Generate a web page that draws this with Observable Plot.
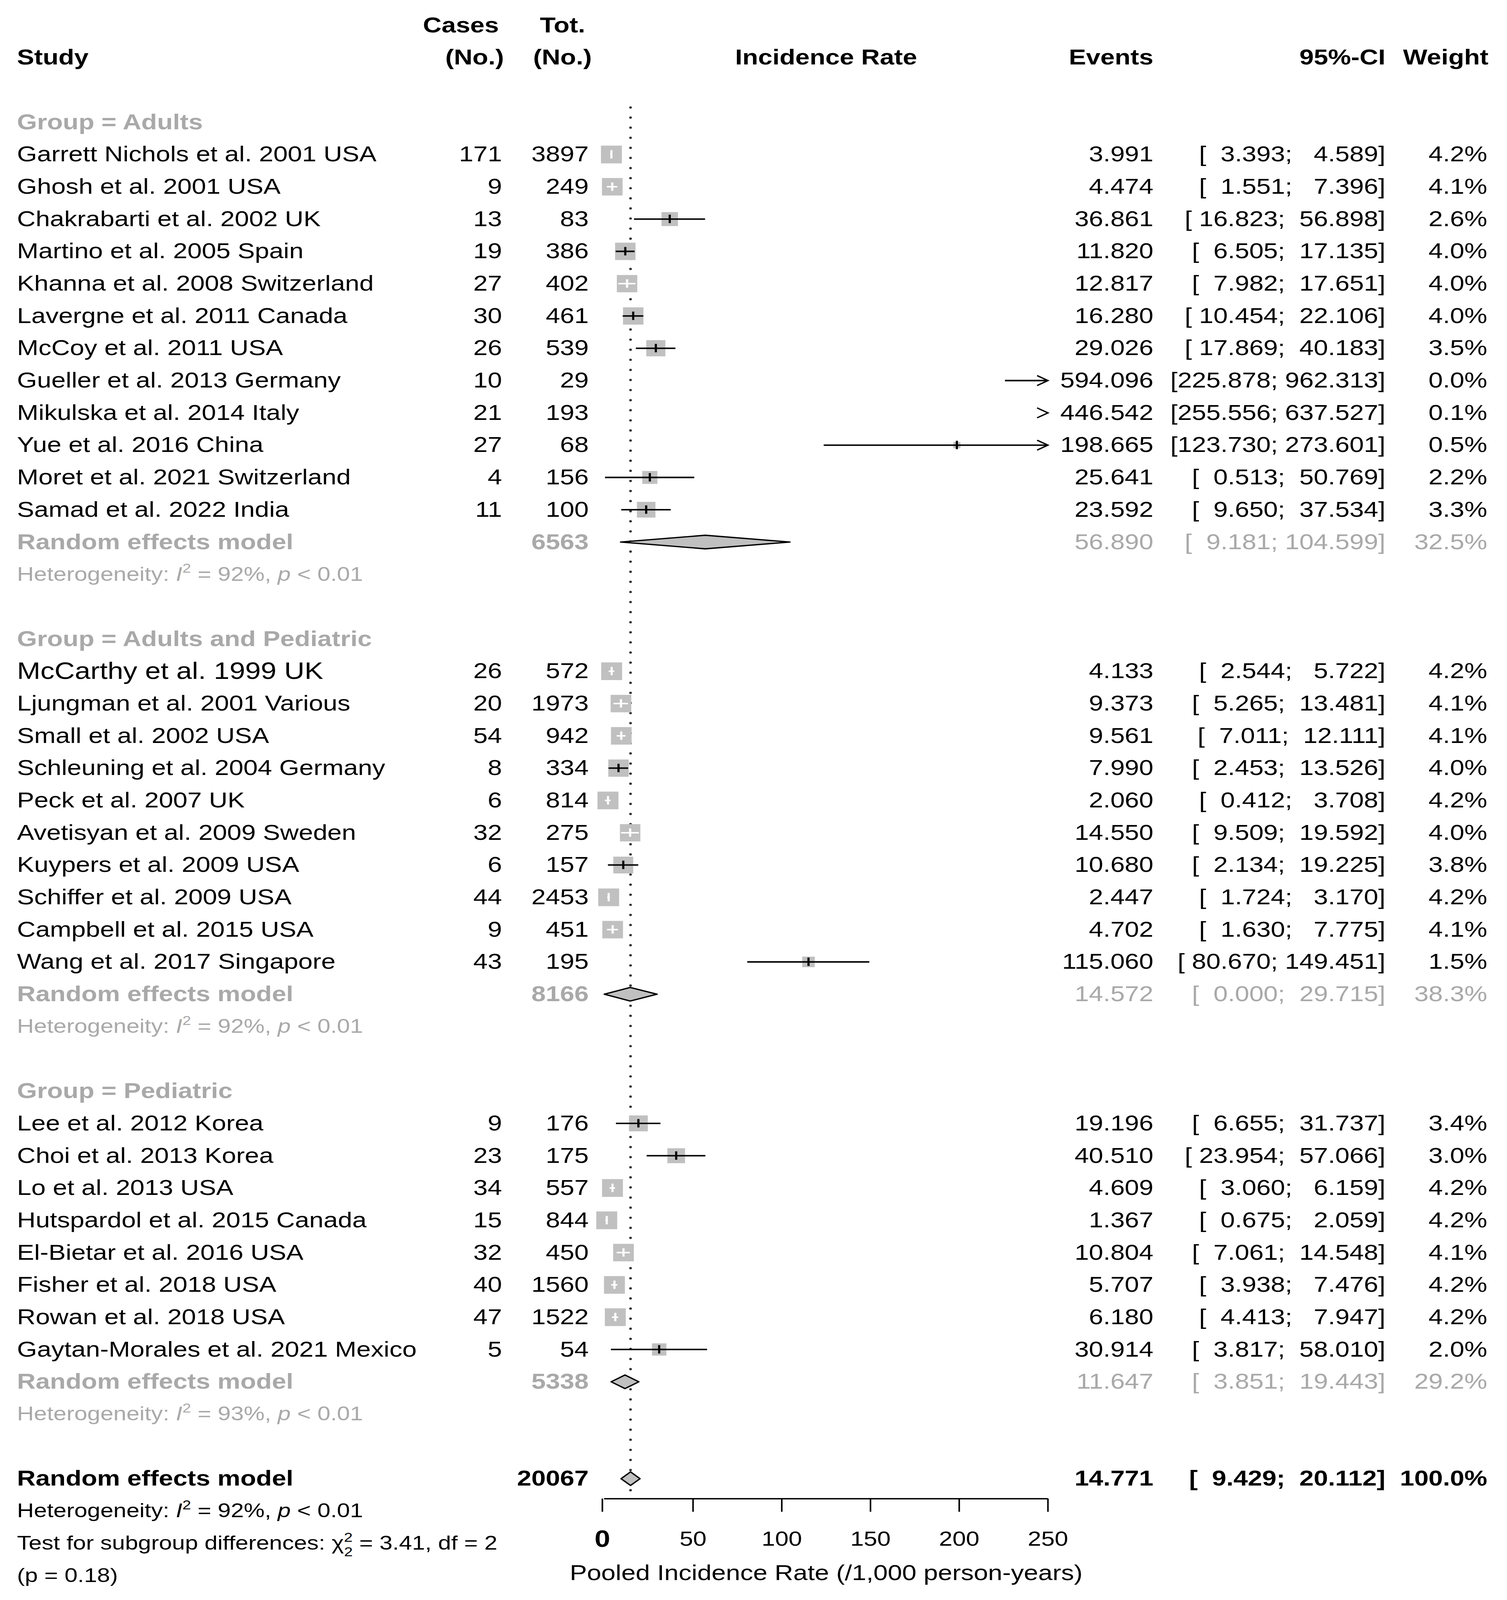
<!DOCTYPE html>
<html>
<head>
<meta charset="utf-8">
<script src="https://cdn.jsdelivr.net/npm/d3@7"></script>
<script src="https://cdn.jsdelivr.net/npm/@observablehq/plot@0.6"></script>
<style>
  html, body { margin: 0; padding: 0; background: #fff; overflow: hidden; }
  #chart { width: 100vw; height: 100vh; overflow: hidden; }
  svg text { white-space: pre; }
</style>
</head>
<body>
<div id="chart"></div>
<script>
// ---------------- DATA ----------------
const groupNames = ["Adults", "Adults and Pediatric", "Pediatric"];

const studyNames = [
  "Garrett Nichols et al. 2001 USA", "Ghosh et al. 2001 USA", "Chakrabarti et al. 2002 UK",
  "Martino et al. 2005 Spain", "Khanna et al. 2008 Switzerland", "Lavergne et al. 2011 Canada",
  "McCoy et al. 2011 USA", "Gueller et al. 2013 Germany", "Mikulska et al. 2014 Italy",
  "Yue et al. 2016 China", "Moret et al. 2021 Switzerland", "Samad et al. 2022 India",
  "McCarthy et al. 1999 UK", "Ljungman et al. 2001 Various", "Small et al. 2002 USA",
  "Schleuning et al. 2004 Germany", "Peck et al. 2007 UK", "Avetisyan et al. 2009 Sweden",
  "Kuypers et al. 2009 USA", "Schiffer et al. 2009 USA", "Campbell et al. 2015 USA",
  "Wang et al. 2017 Singapore",
  "Lee et al. 2012 Korea", "Choi et al. 2013 Korea", "Lo et al. 2013 USA",
  "Hutspardol et al. 2015 Canada", "El-Bietar et al. 2016 USA", "Fisher et al. 2018 USA",
  "Rowan et al. 2018 USA", "Gaytan-Morales et al. 2021 Mexico"
];
const studyGroup = [0,0,0,0,0,0,0,0,0,0,0,0, 1,1,1,1,1,1,1,1,1,1, 2,2,2,2,2,2,2,2];
const cases  = [171, 9, 13, 19, 27, 30, 26, 10, 21, 27, 4, 11,
                26, 20, 54, 8, 6, 32, 6, 44, 9, 43,
                9, 23, 34, 15, 32, 40, 47, 5];
const totals = [3897, 249, 83, 386, 402, 461, 539, 29, 193, 68, 156, 100,
                572, 1973, 942, 334, 814, 275, 157, 2453, 451, 195,
                176, 175, 557, 844, 450, 1560, 1522, 54];
const rates  = [3.991, 4.474, 36.861, 11.820, 12.817, 16.280, 29.026, 594.096, 446.542, 198.665, 25.641, 23.592,
                4.133, 9.373, 9.561, 7.990, 2.060, 14.550, 10.680, 2.447, 4.702, 115.060,
                19.196, 40.510, 4.609, 1.367, 10.804, 5.707, 6.180, 30.914];
const ciLower = [3.393, 1.551, 16.823, 6.505, 7.982, 10.454, 17.869, 225.878, 255.556, 123.730, 0.513, 9.650,
                 2.544, 5.265, 7.011, 2.453, 0.412, 9.509, 2.134, 1.724, 1.630, 80.670,
                 6.655, 23.954, 3.060, 0.675, 7.061, 3.938, 4.413, 3.817];
const ciUpper = [4.589, 7.396, 56.898, 17.135, 17.651, 22.106, 40.183, 962.313, 637.527, 273.601, 50.769, 37.534,
                 5.722, 13.481, 12.111, 13.526, 3.708, 19.592, 19.225, 3.170, 7.775, 149.451,
                 31.737, 57.066, 6.159, 2.059, 14.548, 7.476, 7.947, 58.010];
const weights = [4.2, 4.1, 2.6, 4.0, 4.0, 4.0, 3.5, 0.0, 0.1, 0.5, 2.2, 3.3,
                 4.2, 4.1, 4.1, 4.0, 4.2, 4.0, 3.8, 4.2, 4.1, 1.5,
                 3.4, 3.0, 4.2, 4.2, 4.1, 4.2, 4.2, 2.0];

const subTotal  = [6563, 8166, 5338];
const subRate   = [56.890, 14.572, 11.647];
const subLower  = [9.181, 0.000, 3.851];
const subUpper  = [104.599, 29.715, 19.443];
const subWeight = [32.5, 38.3, 29.2];
const subI2     = [92, 92, 93];

const overallTotal = 20067;
const overallRate = 14.771, overallLower = 9.429, overallUpper = 20.112, overallWeight = 100.0;
const overallI2 = 92;
const subgroupChi2 = 3.41, subgroupDf = 2, subgroupP = 0.18;

const xDomain = [0, 250];
const xTicks = [0, 50, 100, 150, 200, 250];
const axisTitle = "Pooled Incidence Rate (/1,000 person-years)";

// ---------------- LAYOUT / STYLE ----------------
const W = 3859, H = 4835;
const ROW0 = 368.7, ROWH = 97.6;           // pixel of row 0 and row height
const X_RANGE = [1547, 2683];
const FONT = "'Liberation Sans', Arial, Helvetica, sans-serif";
const FS = 66, FS_HET = 60, FS_BIG = 72;
const COL = {study: 43, cases: 1285, tot: 1507, events: 2953, ci: 3547, weight: 3808};
const GRAY = "#a9a9a9", SQ = "#c0c0c0";
const R_RANGE_MAX = 29.5;                  // drawn square radius at weight 4.0 (side = r*sqrt(pi))
const INSIDE_SIDE_4 = 47.5;                // square side (px) used to decide if a CI lies inside its square
const ENLARGED = new Set(["McCarthy et al. 1999 UK"]);
const NB = "\u00a0";
const DIAMOND_H = 0.21, TICK_H = 0.13;

// ---------------- BUILD ROWS ----------------
const fmt3 = v => v.toFixed(3);
const ciText = (lo, hi) => "[" + fmt3(lo).padStart(7, NB) + "; " + fmt3(hi).padStart(7, NB) + "]";
const wText = w => w.toFixed(1) + "%";
const pxPerUnit = (X_RANGE[1] - X_RANGE[0]) / (xDomain[1] - xDomain[0]);
const insideSide = w => INSIDE_SIDE_4 * Math.sqrt(w / 4);

const rows = [];
let r = 0;
groupNames.forEach((g, gi) => {
  rows.push({row: r++, kind: "group", label: `Group = ${g}`});
  studyNames.forEach((name, i) => {
    if (studyGroup[i] !== gi) return;
    rows.push({row: r++, kind: "study", label: name, cases: cases[i], total: totals[i],
      rate: rates[i], lo: ciLower[i], hi: ciUpper[i], w: weights[i],
      inside: (ciUpper[i] - ciLower[i]) * pxPerUnit < insideSide(weights[i])});
  });
  rows.push({row: r++, kind: "sub", label: "Random effects model", total: subTotal[gi],
    rate: subRate[gi], lo: subLower[gi], hi: subUpper[gi], w: subWeight[gi]});
  rows.push({row: r++, kind: "subhet", label: `Heterogeneity: I² = ${subI2[gi]}%, p < 0.01`});
  r++;
});
const overallRow = r;
rows.push({row: r++, kind: "overall", label: "Random effects model", total: overallTotal,
  rate: overallRate, lo: overallLower, hi: overallUpper, w: overallWeight});
rows.push({row: r++, kind: "overallhet", label: `Heterogeneity: I² = ${overallI2}%, p < 0.01`});
rows.push({row: r++, kind: "test", label: `Test for subgroup differences: χ²₂ = ${subgroupChi2.toFixed(2)}, df = ${subgroupDf}`});
rows.push({row: r++, kind: "testp", label: `(p = ${subgroupP.toFixed(2)})`});

const studies = rows.filter(d => d.kind === "study");
const summaries = rows.filter(d => d.kind === "sub" || d.kind === "overall");
const firstRow = rows[0].row;
const axisRow = overallRow + 0.62;
const yPix = v => ROW0 + ROWH * v;
const xMax = xDomain[1], xMin = xDomain[0];

const diamondPts = summaries.flatMap((d, k) => [
  {id: k, x: d.lo, y: d.row},
  {id: k, x: d.rate, y: d.row - DIAMOND_H},
  {id: k, x: d.hi, y: d.row},
  {id: k, x: d.rate, y: d.row + DIAMOND_H},
  {id: k, x: d.lo, y: d.row}
]);

const arrowHead = {
  draw(context, size) {
    const s = Math.sqrt(size / Math.PI);
    context.moveTo(-1.85 * s, -s);
    context.lineTo(0, 0);
    context.lineTo(-1.85 * s, s);
  }
};

// ---------------- HELPERS ----------------
const leftText = (data, o = {}) => Plot.text(data, {y: "row", text: "label", frameAnchor: "left",
  dx: COL.study, textAnchor: "start", fontSize: FS, fill: "black", ...o});
const colText = (data, text, right, o = {}) => Plot.text(data, {y: "row", text, frameAnchor: "left",
  dx: right, textAnchor: "end", fontSize: FS, fill: "black", ...o});
const header = (label, row, right, o = {}) => Plot.text([label], {y: () => row, text: d => d,
  frameAnchor: "left", dx: right, textAnchor: "end", fontSize: FS, fontWeight: "bold", fill: "black", ...o});

const visible = d => d.rate >= xMin && d.rate <= xMax;
const hasLine = d => d.lo <= xMax;

const svg = Plot.plot({
  width: W, height: H,
  marginLeft: 0, marginRight: 0, marginTop: 0, marginBottom: H - yPix(axisRow),
  style: {fontFamily: FONT, background: "white", color: "black"},
  x: {domain: xDomain, range: X_RANGE},
  y: {domain: [-ROW0 / ROWH, (H - ROW0) / ROWH], range: [0, H], axis: null},
  r: {type: "sqrt", domain: [0, 4], range: [0, R_RANGE_MAX]},
  marks: [
    // headers
    header("Study", -2, COL.study, {textAnchor: "start"}),
    header("Cases", -3, COL.cases - 8),
    header("(No.)", -2, COL.cases + 5),
    header("Tot.", -3, COL.tot - 9),
    header("(No.)", -2, COL.tot + 8),
    Plot.text(["Incidence Rate"], {x: () => d3.mean(xDomain), y: () => -2, text: d => d,
      fontSize: FS, fontWeight: "bold", fill: "black"}),
    header("Events", -2, COL.events),
    header("95%-CI", -2, COL.ci),
    header("Weight", -2, COL.weight + 3),

    // reference dotted line at overall estimate
    Plot.ruleX([overallRate], {x: d => d, y1: firstRow - 0.45, y2: overallRow + 0.4,
      stroke: "#333", strokeWidth: 7, strokeDasharray: "0 30.5", strokeLinecap: "round"}),

    // squares
    Plot.dot(studies.filter(d => visible(d) && d.w > 0), {x: "rate", y: "row", r: "w",
      symbol: "square", fill: SQ, stroke: "none"}),
    // CI lines
    Plot.ruleY(studies.filter(d => hasLine(d) && !d.inside), {y: "row",
      x1: d => Math.max(d.lo, xMin), x2: d => Math.min(d.hi, xMax), stroke: "black", strokeWidth: 4.5}),
    Plot.ruleY(studies.filter(d => hasLine(d) && d.inside), {y: "row",
      x1: d => Math.max(d.lo, xMin), x2: d => Math.min(d.hi, xMax), stroke: "white", strokeWidth: 4.5}),
    // estimate ticks
    Plot.ruleX(studies.filter(d => visible(d) && !d.inside), {x: "rate",
      y1: d => d.row - TICK_H, y2: d => d.row + TICK_H, stroke: "black", strokeWidth: 5.5}),
    Plot.ruleX(studies.filter(d => visible(d) && d.inside), {x: "rate",
      y1: d => d.row - TICK_H, y2: d => d.row + TICK_H, stroke: "white", strokeWidth: 5.5}),
    // arrowheads for CIs beyond the axis
    Plot.dot(studies.filter(d => d.hi > xMax), {x: () => xMax, y: "row", r: 15, symbol: arrowHead,
      fill: "none", stroke: "black", strokeWidth: 4}),

    // diamonds
    Plot.line(diamondPts, {x: "x", y: "y", z: "id", fill: SQ, stroke: "black", strokeWidth: 4,
      curve: "linear"}),

    // x axis
    Plot.ruleY([axisRow], {y: d => d, x1: xMin, x2: xMax, stroke: "black", strokeWidth: 4}),
    Plot.axisX({anchor: "bottom", ticks: xTicks.filter(t => t !== 0), tickSize: 40, tickPadding: 58,
      fontSize: 62, strokeWidth: 4, label: null}),
    Plot.axisX({anchor: "bottom", ticks: xTicks.filter(t => t === 0), tickSize: 40, tickPadding: 54,
      fontSize: 72, fontWeight: "bold", strokeWidth: 4, label: null, dx: -5}),
    Plot.text([axisTitle], {x: () => d3.mean(xDomain), frameAnchor: "bottom", dy: 246, text: d => d,
      fontSize: FS, fill: "black"}),

    // left labels
    leftText(rows.filter(d => d.kind === "group"), {fontWeight: "bold", fill: GRAY}),
    leftText(studies.filter(d => !ENLARGED.has(d.label))),
    leftText(studies.filter(d => ENLARGED.has(d.label)), {fontSize: FS_BIG}),
    leftText(rows.filter(d => d.kind === "sub"), {fontWeight: "bold", fill: GRAY}),
    leftText(rows.filter(d => d.kind === "subhet"), {fontSize: FS_HET, fill: GRAY}),
    leftText(rows.filter(d => d.kind === "overall"), {fontWeight: "bold"}),
    leftText(rows.filter(d => d.kind === "overallhet" || d.kind === "test" || d.kind === "testp"), {fontSize: FS_HET}),

    // study columns
    colText(studies, d => String(d.cases), COL.cases),
    colText(studies, d => String(d.total), COL.tot),
    colText(studies, d => fmt3(d.rate), COL.events),
    colText(studies, d => ciText(d.lo, d.hi), COL.ci),
    colText(studies, d => wText(d.w), COL.weight),

    // subgroup summary columns
    colText(rows.filter(d => d.kind === "sub"), d => String(d.total), COL.tot, {fill: GRAY, fontWeight: "bold"}),
    colText(rows.filter(d => d.kind === "sub"), d => fmt3(d.rate), COL.events, {fill: GRAY}),
    colText(rows.filter(d => d.kind === "sub"), d => ciText(d.lo, d.hi), COL.ci, {fill: GRAY}),
    colText(rows.filter(d => d.kind === "sub"), d => wText(d.w), COL.weight, {fill: GRAY}),

    // overall columns
    colText(rows.filter(d => d.kind === "overall"), d => String(d.total), COL.tot, {fontWeight: "bold"}),
    colText(rows.filter(d => d.kind === "overall"), d => fmt3(d.rate), COL.events, {fontWeight: "bold"}),
    colText(rows.filter(d => d.kind === "overall"), d => ciText(d.lo, d.hi), COL.ci, {fontWeight: "bold"}),
    colText(rows.filter(d => d.kind === "overall"), d => wText(d.w), COL.weight, {fontWeight: "bold"})
  ]
});

// rich text (italic / superscript / subscript) for statistics lines
const SVGNS = "http://www.w3.org/2000/svg";
function setRich(el, segs) {
  el.textContent = "";
  for (const s of segs) {
    const ts = document.createElementNS(SVGNS, "tspan");
    ts.textContent = s.t;
    for (const [k, v] of Object.entries(s.a || {})) ts.setAttribute(k, v);
    el.appendChild(ts);
  }
}
d3.select(svg).selectAll("text").each(function () {
  const t = this.textContent;
  let m;
  if ((m = t.match(/^Heterogeneity: I² = (\d+%), p < (.+)$/))) {
    setRich(this, [
      {t: "Heterogeneity: "},
      {t: "I", a: {"font-style": "italic"}},
      {t: "2", a: {"font-size": 40, dy: -24}},
      {t: ` = ${m[1]}, `, a: {dy: 24}},
      {t: "p", a: {"font-style": "italic"}},
      {t: ` < ${m[2]}`}
    ]);
  } else if ((m = t.match(/^Test for subgroup differences: χ²₂ = (.+)$/))) {
    setRich(this, [
      {t: "Test for subgroup differences: "},
      {t: "χ"},
      {t: "2", a: {"font-size": 40, dy: -24}},
      {t: "2", a: {"font-size": 40, dx: -22, dy: 44}},
      {t: ` = ${m[1]}`, a: {dy: -20}}
    ]);
  }
});

// fit the drawing to the photographed viewport so nothing is cut off
svg.setAttribute("preserveAspectRatio", "none");
svg.style.width = "100vw";
svg.style.height = "100vh";
svg.style.maxWidth = "none";
svg.style.display = "block";

document.getElementById("chart").appendChild(svg);
</script>
</body>
</html>
